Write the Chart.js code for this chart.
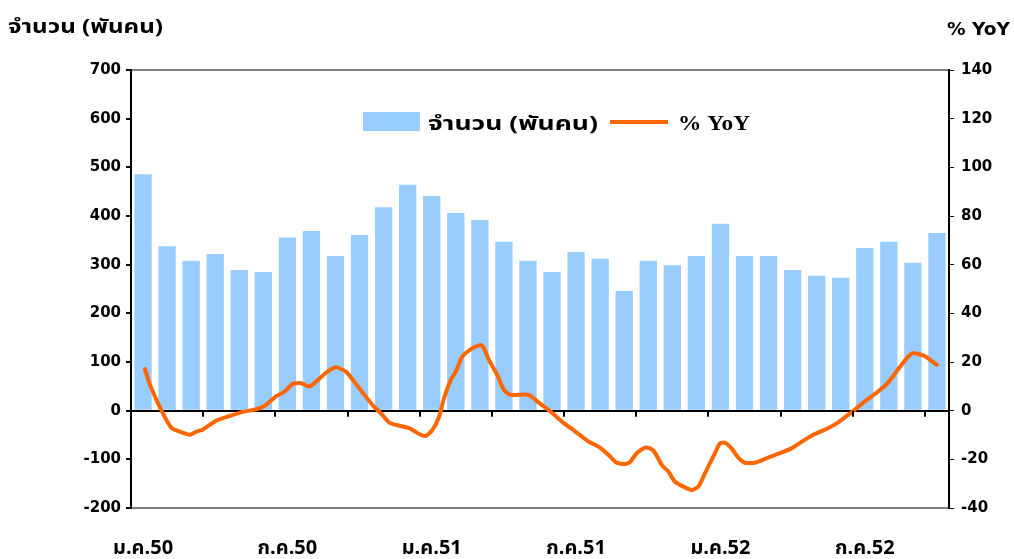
<!DOCTYPE html>
<html>
<head>
<meta charset="utf-8">
<script src="https://cdn.jsdelivr.net/npm/chart.js@4.4.0/dist/chart.umd.min.js"></script>
<style>
  html, body { margin: 0; padding: 0; background: #fff; }
  #wrap { width: 1014px; height: 559px; position: relative; }
</style>
</head>
<body>
<div id="wrap"><canvas id="chart"></canvas></div>
<script>
/* ─── Data ───────────────────────────────────────────────────────────────── */
const categories = [
  'ม.ค.50', 'ก.พ.50', 'มี.ค.50', 'เม.ย.50', 'พ.ค.50', 'มิ.ย.50',
  'ก.ค.50', 'ส.ค.50', 'ก.ย.50', 'ต.ค.50', 'พ.ย.50', 'ธ.ค.50',
  'ม.ค.51', 'ก.พ.51', 'มี.ค.51', 'เม.ย.51', 'พ.ค.51', 'มิ.ย.51',
  'ก.ค.51', 'ส.ค.51', 'ก.ย.51', 'ต.ค.51', 'พ.ย.51', 'ธ.ค.51',
  'ม.ค.52', 'ก.พ.52', 'มี.ค.52', 'เม.ย.52', 'พ.ค.52', 'มิ.ย.52',
  'ก.ค.52', 'ส.ค.52', 'ก.ย.52', 'ต.ค.52'
];

// จำนวน (พันคน)
const amountValues = [
  486, 338, 308, 322, 289, 285, 356, 369, 318, 361, 418, 464,
  441, 406, 392, 347, 308, 285, 326, 312, 246, 308, 299, 318,
  384, 318, 318, 289, 277, 273, 334, 347, 304, 365
];

// % YoY line (x = month position, 0 = ม.ค.50)
const yoyX = [
  0.08, 0.29, 0.77, 1.19, 1.53, 1.94, 2.22, 2.49, 3.05, 3.60,
  4.15, 4.71, 5.05, 5.54, 5.88, 6.22, 6.57, 6.92, 7.19, 7.61,
  8.02, 8.44, 8.99, 9.54, 9.89, 10.23, 10.65, 11.06, 11.48, 11.75,
  12.03, 12.30, 12.51, 12.79, 13.00, 13.27, 13.68, 14.03, 14.17, 14.38,
  14.72, 15.00, 15.28, 16.03, 16.45, 16.86, 17.41, 17.97, 18.52, 18.93,
  19.35, 19.69, 20.04, 20.25, 20.52, 20.87, 21.08, 21.28, 21.56, 21.84,
  22.11, 22.46, 22.80, 23.08, 23.36, 23.77, 23.98, 24.19, 24.46, 24.74,
  25.01, 25.43, 25.98, 26.39, 26.95, 27.50, 27.92, 28.47, 28.88, 29.30,
  29.57, 29.99, 30.54, 30.95, 31.36, 31.71, 31.99, 32.27, 32.54, 32.82,
  33.00
];
const yoyValues = [
  17.1, 10.6, 0.0, -7.2, -8.6, -9.9, -8.6, -7.7, -4.1, -2.2,
  -0.5, 0.6, 1.9, 6.0, 7.8, 11.0, 11.3, 9.9, 11.9, 15.6,
  17.8, 16.0, 9.2, 2.3, -1.1, -4.9, -6.2, -7.2, -9.6, -10.4,
  -7.9, -2.7, 5.1, 12.6, 16.0, 22.2, 25.6, 27.0, 25.6, 20.8,
  14.7, 8.5, 6.5, 6.5, 3.3, 0.3, -4.5, -8.6, -12.7, -14.8,
  -18.2, -21.4, -21.9, -21.0, -17.5, -15.2, -15.5, -17.3, -22.3, -25.1,
  -29.2, -31.2, -32.6, -31.2, -25.7, -17.5, -13.4, -13.2, -15.5, -19.3,
  -21.4, -21.4, -19.3, -17.8, -15.5, -12.0, -9.6, -7.2, -4.9, -1.8,
  0.3, 3.7, 7.8, 11.3, 16.7, 21.1, 23.6, 23.2, 22.2, 20.1,
  18.8
];

const leftTicks  = [700, 600, 500, 400, 300, 200, 100, 0, -100, -200];
const rightTicks = [140, 120, 100, 80, 60, 40, 20, 0, -20, -40];

/* ─── Styles ─────────────────────────────────────────────────────────────── */
const BAR_COLOR  = '#99ccff';
const LINE_COLOR = '#ff6600';
const TICK_FONT  = { family: '"DejaVu Sans", Arial, sans-serif', size: 15, weight: 'bold' };
const THAI_FONT  = '"Noto Sans Thai", "Noto Serif Thai", Loma, Garuda, Tahoma, "DejaVu Sans", sans-serif';

/* ─── Helpers ────────────────────────────────────────────────────────────── */
// draw text stretched horizontally so it spans [x0, x1] (the source image is widened)
function wideText(ctx, text, x0, x1, y) {
  const w = ctx.measureText(text).width;
  ctx.save();
  ctx.translate(x0, y);
  ctx.scale((x1 - x0) / w, 1);
  ctx.textAlign = 'left';
  ctx.fillText(text, 0, 0);
  ctx.restore();
}

/* ─── Extra drawing: axis titles, legend, tick marks on the zero line ───── */
const decorPlugin = {
  id: 'decor',
  afterDraw(chart) {
    const { ctx, scales } = chart;
    ctx.save();

    // axis titles
    ctx.fillStyle = '#000';
    ctx.textBaseline = 'alphabetic';
    ctx.font = `bold 19px ${THAI_FONT}`;
    wideText(ctx, 'จำนวน (พันคน)', 8, 163, 33);
    ctx.font = 'bold 17px "DejaVu Sans", Arial, sans-serif';
    wideText(ctx, '% YoY', 947, 1010, 35);

    // tick marks on the zero line every 3 months
    const y0 = scales.y.getPixelForValue(0);
    ctx.strokeStyle = '#000';
    ctx.lineWidth = 2;
    for (let i = 3; i < categories.length; i += 3) {
      const px = Math.round(scales.xl.getPixelForValue(i - 0.5));
      ctx.beginPath();
      ctx.moveTo(px, y0);
      ctx.lineTo(px, y0 + 6);
      ctx.stroke();
    }

    // legend inside the plot
    ctx.fillStyle = BAR_COLOR;
    ctx.fillRect(363, 112, 57, 19);
    ctx.fillStyle = '#000';
    ctx.font = `bold 20px ${THAI_FONT}`;
    wideText(ctx, 'จำนวน (พันคน)', 428, 598, 130);
    ctx.strokeStyle = LINE_COLOR;
    ctx.lineWidth = 4;
    ctx.beginPath();
    ctx.moveTo(610, 122);
    ctx.lineTo(668, 122);
    ctx.stroke();
    ctx.font = 'bold 20px "Liberation Serif", "Times New Roman", serif';
    wideText(ctx, '% YoY', 678, 750, 130);

    ctx.restore();
  }
};

/* ─── Chart ──────────────────────────────────────────────────────────────── */
new Chart(document.getElementById('chart'), {
  data: {
    labels: categories,
    datasets: [
      {
        type: 'line',
        label: '% YoY',
        data: yoyX.map((x, i) => ({ x, y: yoyValues[i] })),
        xAxisID: 'xl',
        yAxisID: 'y1',
        borderColor: LINE_COLOR,
        borderWidth: 4,
        pointRadius: 0,
        tension: 0.2,
        borderCapStyle: 'round',
        borderJoinStyle: 'round',
        order: 0
      },
      {
        type: 'bar',
        label: 'จำนวน (พันคน)',
        data: amountValues,
        xAxisID: 'x',
        yAxisID: 'y',
        backgroundColor: BAR_COLOR,
        borderWidth: 0,
        grouped: false,
        barPercentage: 0.72,
        categoryPercentage: 1,
        order: 1
      }
    ]
  },
  options: {
    responsive: true,
    maintainAspectRatio: false,
    animation: false,
    layout: { padding: { top: 70, left: 0, right: 0, bottom: 0 } },
    plugins: {
      legend: { display: false },
      tooltip: { enabled: false }
    },
    scales: {
      x: {
        type: 'category',
        offset: true,
        grid: { display: false, drawTicks: false },
        border: { display: false },
        ticks: {
          autoSkip: false,
          maxRotation: 0,
          padding: 30,
          color: '#000',
          font: { family: THAI_FONT, size: 20, weight: 'bold' },
          callback: (v, i) => (i % 6 === 0 ? categories[i] : '')
        },
        afterFit: s => { s.height = 51; }
      },
      xl: {
        type: 'linear',
        display: false,
        min: -0.5,
        max: categories.length - 0.5
      },
      y: {
        position: 'left',
        min: -200,
        max: 700,
        afterBuildTicks: s => { s.ticks = leftTicks.map(v => ({ value: v })); },
        grid: {
          drawOnChartArea: true,
          tickLength: 5,
          tickColor: '#000',
          color: c => c.tick.value === 0 ? '#000' : (c.tick.value === 700 || c.tick.value === -200) ? '#808080' : 'rgba(0,0,0,0)',
          lineWidth: 2
        },
        border: { display: true, color: '#000', width: 2 },
        ticks: { color: '#000', font: TICK_FONT, padding: 5 },
        afterFit: s => { s.width = 131; }
      },
      y1: {
        position: 'right',
        min: -40,
        max: 140,
        afterBuildTicks: s => { s.ticks = rightTicks.map(v => ({ value: v })); },
        grid: { drawOnChartArea: false, tickLength: 5, tickColor: '#000' },
        border: { display: true, color: '#000', width: 2 },
        ticks: { color: '#000', font: TICK_FONT, padding: 7 },
        afterFit: s => { s.width = 65; }
      }
    }
  },
  plugins: [decorPlugin]
});
</script>
</body>
</html>
